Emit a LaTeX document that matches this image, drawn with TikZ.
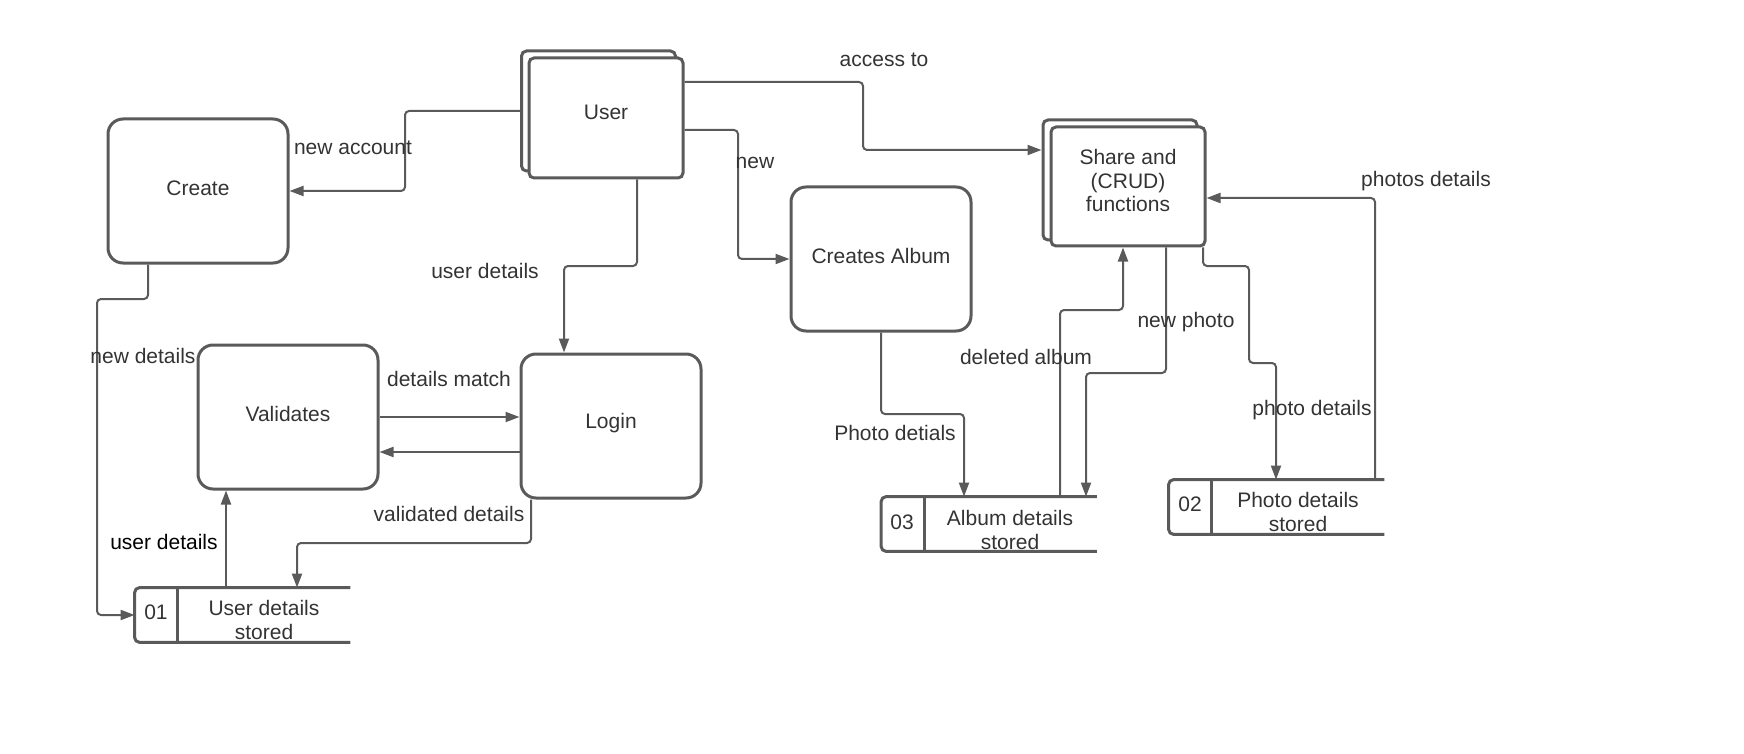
\documentclass[tikz,border=0pt]{standalone}
\usepackage{fontspec}
\setmainfont{Liberation Sans}
\usetikzlibrary{arrows.meta}
\definecolor{ln}{HTML}{5A5A5A}
\definecolor{tx}{HTML}{333333}
\begin{document}
\begin{tikzpicture}[x=0.5pt,y=-0.5pt,
  every node/.style={font=\fontsize{10.5pt}{12pt}\selectfont, text=tx},
  proc/.style={draw=ln, line width=1.5pt, rounded corners=7.5pt, minimum width=90pt, minimum height=72pt, inner sep=0pt},
  ent/.style={draw=ln, line width=1.5pt, rounded corners=2.5pt, fill=white, minimum width=77pt, minimum height=60pt, inner sep=0pt, align=center},
  storenode/.style={minimum width=107.5pt, minimum height=27pt, inner sep=0pt},
  storeline/.style={draw=ln, line width=1.5pt, rounded corners=2.5pt},
  flow/.style={draw=ln, line width=1pt, rounded corners=2pt, -{Triangle[length=7pt,width=5pt]}},
  lbl/.style={}]
\useasboundingbox (0,0) rectangle (1744,754);
% entities
\node[ent] (userback) at (598.5,111) {};
\node[ent, label={[yshift=3pt]center:User}] (user) at (606,118) {};
\node[ent] (shareback) at (1120,180) {};
\node[ent, minimum height=59.5pt, label={[yshift=3pt, align=center, font=\fontsize{10.5pt}{11.75pt}\selectfont]center:Share and\\(CRUD)\\functions}] (share) at (1128,186.5) {};
% processes
\node[proc, label={[yshift=1.5pt]center:Create}] (create) at (198,191) {};
\node[proc, label={[yshift=1.5pt]center:Validates}] (validates) at (288,417) {};
\node[proc, label={[yshift=1.5pt]center:Login}] (login) at (611,426) {};
\node[proc, label={[yshift=1.5pt]center:Creates Album}] (album) at (881,259) {};
% stores
\node[storenode] (s1) at (242.5,615) {};
\node[storenode] (s3) at (989,524) {};
\node[storenode] (s2) at (1276.5,507) {};
\foreach \s in {s1, s3, s2}{
  \draw[storeline] (\s.north east) -- (\s.north west) -- (\s.south west) -- (\s.south east);
  \draw[draw=ln, line width=1.5pt] ([xshift=21.5pt]\s.north west) -- ([xshift=21.5pt]\s.south west);
}
\node (s1id) at (156,612) {01};
\node[align=center] (s1t) at (264,620) {User details\\stored};
\node (s3id) at (902,522) {03};
\node[align=center] (s3t) at (1010,530) {Album details\\stored};
\node (s2id) at (1190,504) {02};
\node[align=center] (s2t) at (1298,512) {Photo details\\stored};
% connectors
\draw[flow] (userback.west) -| (405,150) |- (create.east);
\draw[flow] ([yshift=18pt]user.east) -| (863,120) |- ([yshift=15pt]shareback.west);
\draw[flow] ([yshift=-6pt]user.east) -| (738,200) |- (album.west);
\draw[flow] ([xshift=15.5pt]user.south) |- (600,266) -| ([xshift=-23.5pt]login.north);
\draw[flow] ([xshift=-25pt]create.south) |- (120,299) -| (97,400) |- (s1.west);
\draw[flow] (validates.east) -- (validates.east -| login.west);
\draw[flow] ([yshift=-13pt]login.west) -- ([yshift=-13pt]login.west -| validates.east);
\draw[flow] ([xshift=-40pt]login.south) |- (400,543) -| ([xshift=27.25pt]s1.north);
\draw[flow] ([xshift=-8.25pt]s1.north) -- ([xshift=-31pt]validates.south);
\draw[flow] (album.south) |- (920,414) -| ([xshift=-12.5pt]s3.north);
\draw[flow] ([xshift=35.5pt]s3.north) |- (1090,310) -| ([xshift=-2.5pt]share.south);
\draw[flow] ([xshift=19pt]share.south) |- (1120,373) -| ([xshift=48.5pt]s3.north);
\draw[flow] ([xshift=37.5pt]share.south) |- (1230,266) -| (1249,300) |- (1262,363) -| ([xshift=-0.25pt]s2.north);
\draw[flow] ([xshift=49.25pt]s2.north) |- ([yshift=-5.75pt]share.east);
% labels
\node[lbl] (l1) at (884,60) {access to};
\node[lbl] (l2) at (353,148) {new account};
\node[lbl] (l3) at (755,163) {new};
\node[lbl] (l4) at (485,271) {user details};
\node[lbl] (l5) at (143,356) {new details};
\node[lbl] (l6) at (449,379) {details match};
\node[lbl] (l7) at (449,514) {validated details};
\node[lbl, text=black] (l8) at (164,542) {user details};
\node[lbl] (l9) at (895,433) {Photo detials};
\node[lbl] (l10) at (1026,357) {deleted album};
\node[lbl] (l11) at (1186,322) {new photo};
\node[lbl] (l12) at (1312,410) {photo details};
\node[lbl] (l13) at (1426,181) {photos details};
\end{tikzpicture}
\end{document}
